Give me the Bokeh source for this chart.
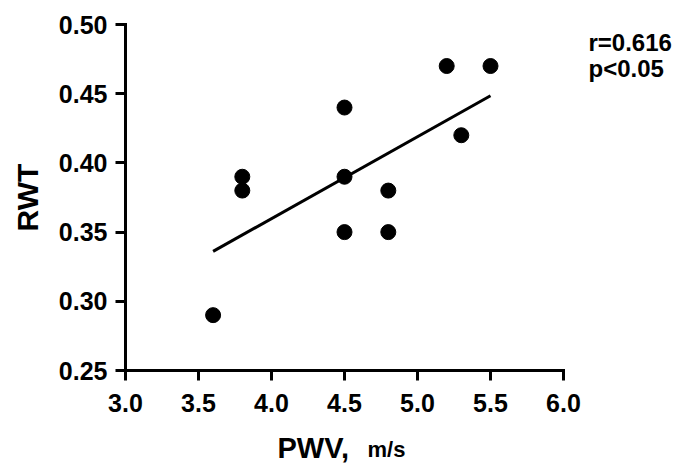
import numpy as np
from bokeh.plotting import figure
from bokeh.models import Range1d, FixedTicker, PrintfTickFormatter, Label
from bokeh.embed import file_html
from bokeh.resources import INLINE

# data
pwv = [3.6, 3.8, 3.8, 4.5, 4.5, 4.5, 4.8, 4.8, 5.2, 5.3, 5.5]
rwt = [0.29, 0.39, 0.38, 0.44, 0.39, 0.35, 0.38, 0.35, 0.47, 0.42, 0.47]
x_ticks = [3.0, 3.5, 4.0, 4.5, 5.0, 5.5, 6.0]
y_ticks = [0.25, 0.30, 0.35, 0.40, 0.45, 0.50]
stats_text = ["r=0.616", "p<0.05"]
x_title = ["PWV,", "m/s"]
y_title = "RWT"

slope, intercept = np.polyfit(pwv, rwt, 1)
fit_x = [min(pwv), max(pwv)]
fit_y = [slope * v + intercept for v in fit_x]

FONT = "Liberation Sans"

# axis extents: x 3.0..6.0 spans 438 px, y 0.25..0.50 spans 346 px
X0, X1, Y0, Y1 = x_ticks[0], x_ticks[-1], y_ticks[0], y_ticks[-1]
W, H = 687, 464
L, R, T, B = 125, 124, 24, 94
xpp = (X1 - X0) / (W - L - R)
ypp = (Y1 - Y0) / (H - T - B)

p = figure(width=W, height=H, output_backend="svg", toolbar_location=None,
           x_range=Range1d(X0 - L * xpp, X1 + R * xpp),
           y_range=Range1d(Y0 - B * ypp, Y1 + T * ypp),
           min_border=0)
p.outline_line_color = None
p.xgrid.visible = False
p.ygrid.visible = False
p.background_fill_color = "white"
p.border_fill_color = "white"

for ax in (p.xaxis[0], p.yaxis[0]):
    ax.axis_line_width = 3
    ax.axis_line_color = "black"
    ax.axis_line_cap = "square"
    ax.major_tick_line_width = 3
    ax.major_tick_line_color = "black"
    ax.major_tick_out = 10
    ax.major_tick_in = 0
    ax.minor_tick_line_color = None
    ax.major_label_text_font = FONT
    ax.major_label_text_font_style = "bold"
    ax.major_label_text_font_size = "25px"
    ax.major_label_text_color = "black"

p.xaxis.fixed_location = Y0
p.yaxis.fixed_location = X0
p.xaxis.bounds = (X0, X1)
p.yaxis.bounds = (Y0, Y1)
p.xaxis.major_label_standoff = 13
p.yaxis.major_label_standoff = 8
p.xaxis.ticker = FixedTicker(ticks=x_ticks)
p.yaxis.ticker = FixedTicker(ticks=y_ticks)
p.xaxis.formatter = PrintfTickFormatter(format="%.1f")
p.yaxis.formatter = PrintfTickFormatter(format="%.2f")

p.line(fit_x, fit_y, line_width=3, line_color="black")
p.scatter(pwv, rwt, size=15, fill_color="black", line_color="black")

def lab(x, y, text, size, **kw):
    p.add_layout(Label(x=x, y=y, text=text, text_font=FONT, text_font_style="bold",
                       text_font_size=size, text_color="black", **kw))

# titles (positions in pixel offsets from the axes)
lab(X0 - 98.5 * xpp, Y0 + 173 * ypp, y_title, "30px", angle=np.pi / 2,
    text_align="center", text_baseline="middle")
lab(X0 + 152 * xpp, Y0 - 77 * ypp, x_title[0], "29px",
    text_align="left", text_baseline="alphabetic")
lab(X0 + 242 * xpp, Y0 - 79 * ypp, x_title[1], "22px",
    text_align="left", text_baseline="alphabetic")

# statistics
lab(X1 + 25 * xpp, Y0 + 328 * ypp, stats_text[0], "24px",
    text_align="left", text_baseline="alphabetic")
lab(X1 + 25 * xpp, Y0 + 302 * ypp, stats_text[1], "24px",
    text_align="left", text_baseline="alphabetic")

open("out.html", "w").write(file_html(p, INLINE))
